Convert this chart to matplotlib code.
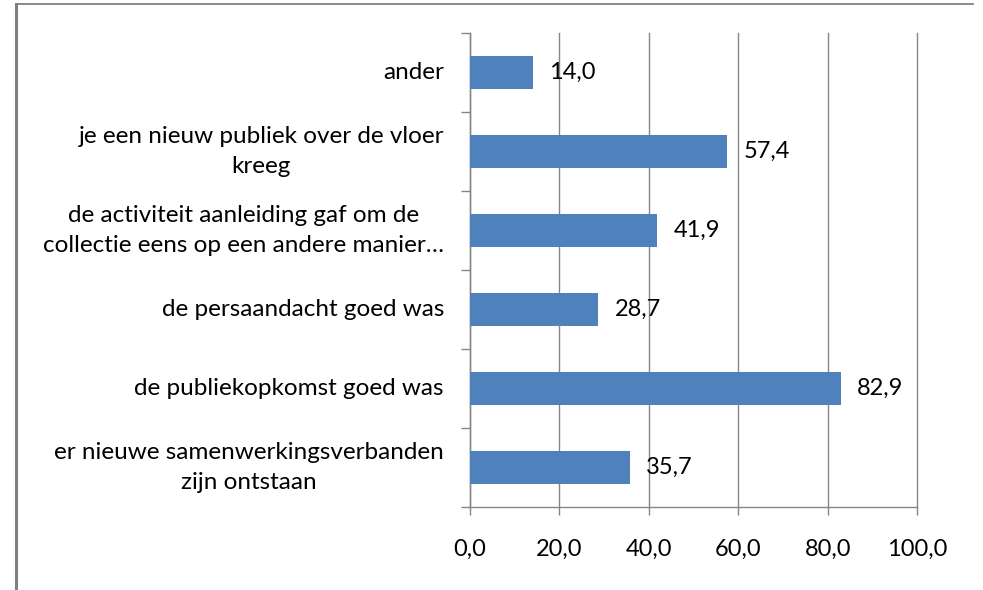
import matplotlib.pyplot as plt
import matplotlib.transforms as mtransforms
from matplotlib.lines import Line2D
from matplotlib.ticker import FixedLocator

plt.rcParams["font.family"] = ["Lato", "DejaVu Sans"]

# categories from bottom to top, as drawn
categories = [
    "er nieuwe samenwerkingsverbanden\nzijn ontstaan",
    "de publiekopkomst goed was",
    "de persaandacht goed was",
    "de activiteit aanleiding gaf om de\ncollectie eens op een andere manier…",
    "je een nieuw publiek over de vloer\nkreeg",
    "ander",
]
values = [35.7, 82.9, 28.7, 41.9, 57.4, 14.0]
x_ticks = [0, 20, 40, 60, 80, 100]

bar_color = "#4F81BD"
line_color = "#868686"

fig = plt.figure(figsize=(9.83, 5.90), dpi=100)
ax = fig.add_axes([0.4781, 0.1407, 0.4548, 0.8034])

y = list(range(len(categories)))
ax.barh(y, values, height=0.41, color=bar_color, zorder=3)

for yi, v in zip(y, values):
    ax.annotate(f"{v:.1f}".replace(".", ","), (v, yi), xytext=(12, 0),
                textcoords="offset points", va="center", ha="left",
                fontsize=17, color="black", zorder=4)

ax.set_xlim(0, 100)
ax.set_ylim(-0.5, len(categories) - 0.5)
ax.set_xticks(x_ticks)
ax.set_xticklabels([f"{t:.1f}".replace(".", ",") for t in x_ticks], fontsize=17)

# category labels: right aligned block, wrapped lines centred (Excel style)
ax.set_yticks(y)
ax.set_yticklabels([])
label_trans = mtransforms.blended_transform_factory(ax.transAxes, ax.transData)
label_trans = label_trans + mtransforms.ScaledTranslation(-26 / 100, 0, fig.dpi_scale_trans)
for yi, cat in zip(y, categories):
    ax.text(0, yi, cat, transform=label_trans, ha="right", va="center",
            multialignment="center", linespacing=1.5, fontsize=17.5,
            color="black", clip_on=False)

ax.yaxis.set_minor_locator(FixedLocator([i + 0.5 for i in range(-1, len(categories))]))
ax.tick_params(axis="y", which="major", length=0)
ax.tick_params(axis="y", which="minor", length=6.5, width=1.0, color=line_color)
ax.tick_params(axis="x", length=6, width=1.0, color=line_color, pad=17)

ax.grid(True, axis="x", color=line_color, linewidth=1.0, zorder=0)
for gl in ax.get_xgridlines():
    gl.set_clip_on(False)
for side in ["top", "right"]:
    ax.spines[side].set_visible(False)
for side in ["left", "bottom"]:
    ax.spines[side].set_color(line_color)
    ax.spines[side].set_linewidth(1.0)

# outer chart border (top and left edges visible)
fig.add_artist(Line2D([16 / 983, 973 / 983], [1 - 4 / 590, 1 - 4 / 590],
                      transform=fig.transFigure, color="#808080", linewidth=1.3))
fig.add_artist(Line2D([16 / 983, 16 / 983], [0, 1 - 4 / 590],
                      transform=fig.transFigure, color="#808080", linewidth=2.2))

fig.savefig("out.png", dpi=100)
